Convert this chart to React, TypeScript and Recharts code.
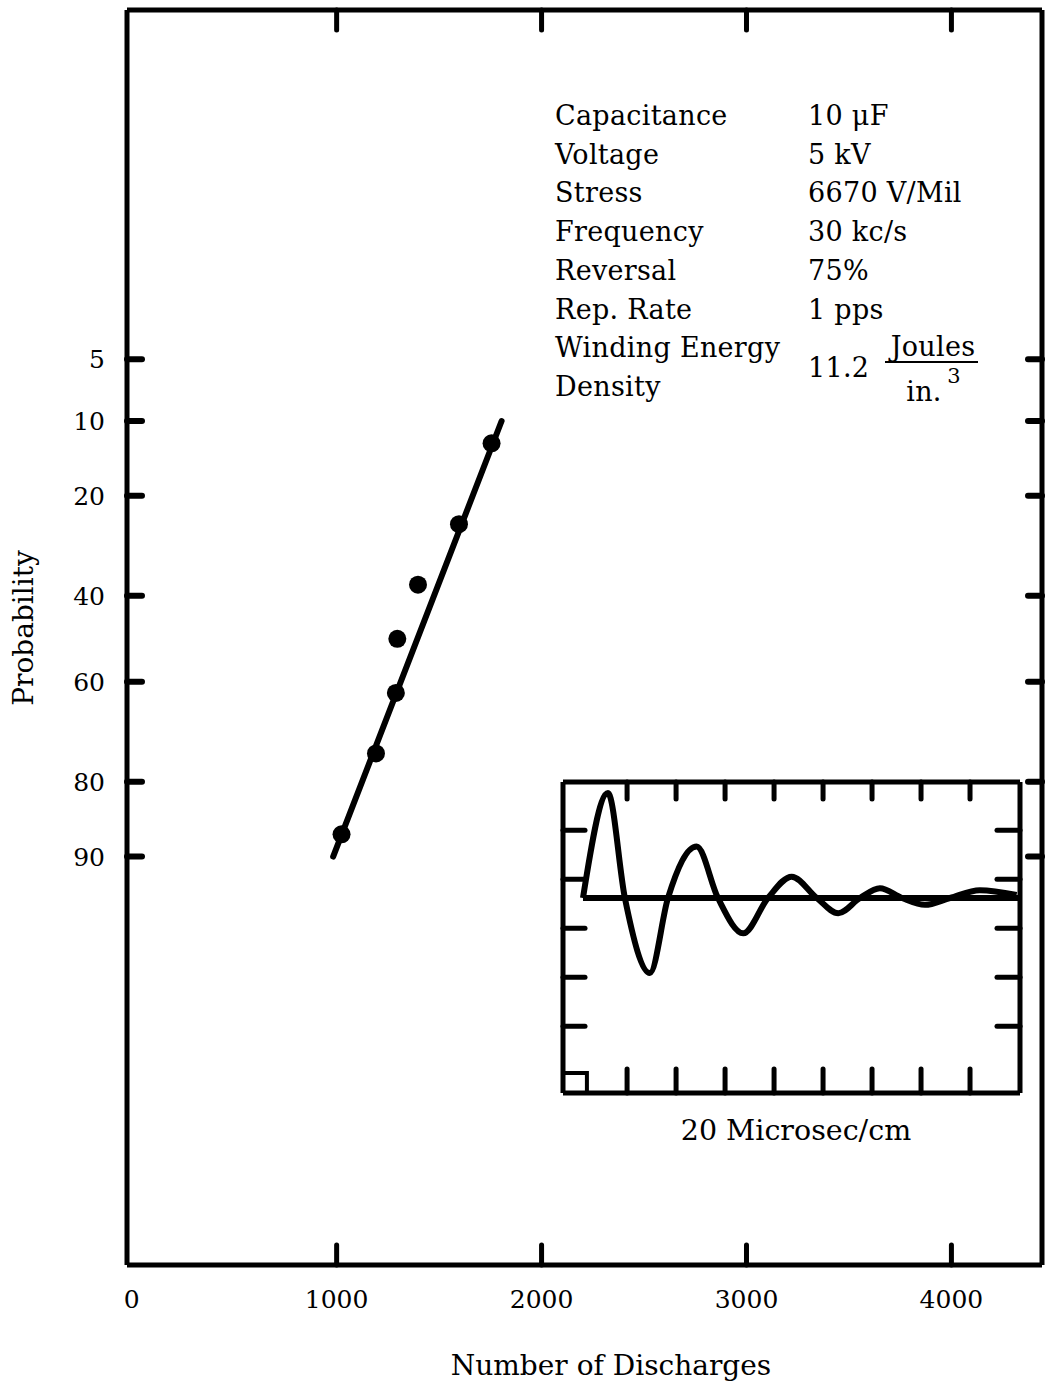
import React from 'react';
import {
  ComposedChart,
  LineChart,
  Line,
  Scatter,
  XAxis,
  YAxis,
  ReferenceArea,
} from 'recharts';

// main plot: probability (%) vs number of discharges to failure
const discharges = [1756, 1597, 1397, 1296, 1289, 1192, 1024];
const probability = [12.5, 25, 37.5, 50, 62.5, 75, 87.5];
const fitDischarges = [983, 1805];
const fitProbability = [90, 10];
const xTicks = [0, 1000, 2000, 3000, 4000];
const probTicks = [5, 10, 20, 40, 60, 80, 90];

// inset oscillogram (20 microsec/cm), time in microsec, amplitude in divisions
const waveTime = [0, 10.2, 17.1, 27.3, 34.7, 46.4, 55.1, 65.4, 75.5, 85.2, 95.4, 104.2, 113.1, 121.2, 130.2, 139.6, 149.8, 162, 177];
const waveAmp = [0, 2.14, 0, -1.53, 0, 1.05, 0, -0.72, 0, 0.435, 0, -0.31, 0, 0.2, 0, -0.14, 0, 0.16, 0.06];
const baseTime = [0, 178.4];
const baseAmp = [0, 0];
const gridTime = [18, 38, 58, 78, 98, 118, 138, 158];
const gridAmp = [1.38, 0.38, -0.62, -1.62, -2.62];

const params = [
  ['Capacitance', '10 μF'],
  ['Voltage', '5 kV'],
  ['Stress', '6670 V/Mil'],
  ['Frequency', '30 kc/s'],
  ['Reversal', '75%'],
  ['Rep. Rate', '1 pps'],
];

// inverse of the standard normal CDF (Acklam), used for the probability axis
function probit(p: number): number {
  const a = [-39.69683028665376, 220.9460984245205, -275.9285104469687, 138.357751867269, -30.66479806614716, 2.506628277459239];
  const b = [-54.47609879822406, 161.5858368580409, -155.6989798598866, 66.80131188771972, -13.28068155288572];
  const c = [-0.007784894002430293, -0.3223964580411365, -2.400758277161838, -2.549732539343734, 4.374664141464968, 2.938163982698783];
  const d = [0.007784695709041462, 0.3224671290700398, 2.445134137142996, 3.754408661907416];
  const pl = 0.02425;
  if (p < pl) {
    const q = Math.sqrt(-2 * Math.log(p));
    return (((((c[0] * q + c[1]) * q + c[2]) * q + c[3]) * q + c[4]) * q + c[5]) /
      ((((d[0] * q + d[1]) * q + d[2]) * q + d[3]) * q + 1);
  }
  if (p > 1 - pl) {
    const q = Math.sqrt(-2 * Math.log(1 - p));
    return -(((((c[0] * q + c[1]) * q + c[2]) * q + c[3]) * q + c[4]) * q + c[5]) /
      ((((d[0] * q + d[1]) * q + d[2]) * q + d[3]) * q + 1);
  }
  const q = p - 0.5;
  const r = q * q;
  return (((((a[0] * r + a[1]) * r + a[2]) * r + a[3]) * r + a[4]) * r + a[5]) * q /
    (((((b[0] * r + b[1]) * r + b[2]) * r + b[3]) * r + b[4]) * r + 1);
}

const points = discharges.map((n, i) => ({ n, z: probit(probability[i] / 100) }));
const fitLine = fitDischarges.map((n, i) => ({ n, z: probit(fitProbability[i] / 100) }));
const zTicks = probTicks.map((p) => probit(p / 100));
const wave = waveTime.map((t, i) => ({ t, v: waveAmp[i] }));
const baseline = baseTime.map((t, i) => ({ t, v: baseAmp[i] }));

const FONT = '"DejaVu Serif", serif';
const X_DOMAIN: [number, number] = [-23, 4442];
const Z_DOMAIN: [number, number] = [-3.7, 3.685];
const T_DOMAIN: [number, number] = [-8.16, 178.4];
const A_DOMAIN: [number, number] = [-3.98, 2.367];

const axisLine = { stroke: '#000', strokeWidth: 5 };
const tickLine = { stroke: '#000', strokeWidth: 5, strokeLinecap: 'round' as const };
const NoLabel = () => <g />;

// inward tick hanging down from a top axis
const topTick = (len: number) => (props: any) => (
  <line x1={props.x} y1={props.y} x2={props.x} y2={props.y + len} stroke="#000" strokeWidth={5} strokeLinecap="round" />
);
const MainTopTick = topTick(20);
const InsetTopTick = topTick(17);

function BottomTick(props: any) {
  const { x, y, payload } = props;
  return (
    <g>
      {payload.value !== 0 && (
        <line x1={x} y1={y} x2={x} y2={y - 20} stroke="#000" strokeWidth={5} strokeLinecap="round" />
      )}
      <text x={x} y={y + 43} textAnchor="middle" fontFamily={FONT} fontSize={25} fill="#000">
        {payload.value}
      </text>
    </g>
  );
}

function LeftTick(props: any) {
  const { x, y, payload } = props;
  const label = probTicks.find((p) => Math.abs(probit(p / 100) - payload.value) < 1e-6);
  return (
    <g>
      <line x1={x} y1={y} x2={x + 15} y2={y} stroke="#000" strokeWidth={6} strokeLinecap="round" />
      <text x={x - 22} y={y + 9} textAnchor="end" fontFamily={FONT} fontSize={25} fill="#000">
        {label}
      </text>
    </g>
  );
}

const abs = (left: number, top: number, extra: React.CSSProperties = {}): React.CSSProperties => ({
  position: 'absolute',
  left,
  top,
  whiteSpace: 'nowrap',
  lineHeight: 1,
  fontFamily: FONT,
  color: '#000',
  ...extra,
});

const PARAM_TEXT = { fontSize: 27, letterSpacing: 0.3 };

export default function App() {
  return (
    <div style={{ position: 'absolute', left: 0, top: 0, width: 1046, height: 1387, background: '#fff', overflow: 'hidden' }}>
      <ComposedChart width={1046} height={1387} margin={{ top: 9, right: 4, left: 0, bottom: 0 }}>
        <XAxis
          xAxisId="b"
          type="number"
          dataKey="n"
          domain={X_DOMAIN}
          allowDataOverflow
          ticks={xTicks}
          height={122}
          axisLine={axisLine}
          tickLine={false}
          tickSize={0}
          tickMargin={0}
          tick={BottomTick}
          interval={0}
        />
        <XAxis
          xAxisId="t"
          orientation="top"
          type="number"
          dataKey="n"
          domain={X_DOMAIN}
          allowDataOverflow
          ticks={xTicks.slice(1)}
          height={1}
          tickSize={0}
          tickMargin={0}
          axisLine={axisLine}
          tickLine={false}
          tick={MainTopTick}
          interval={0}
        />
        <YAxis
          yAxisId="l"
          type="number"
          dataKey="z"
          domain={Z_DOMAIN}
          allowDataOverflow
          reversed
          ticks={zTicks}
          width={127}
          axisLine={axisLine}
          tickLine={false}
          tickSize={0}
          tickMargin={0}
          tick={LeftTick}
          interval={0}
        />
        <YAxis
          yAxisId="r"
          orientation="right"
          type="number"
          domain={Z_DOMAIN}
          allowDataOverflow
          reversed
          ticks={zTicks}
          width={30}
          mirror
          tickSize={14}
          axisLine={axisLine}
          tickLine={{ stroke: '#000', strokeWidth: 6, strokeLinecap: 'round' }}
          tick={NoLabel}
          interval={0}
        />
        <Line
          xAxisId="b"
          yAxisId="l"
          data={fitLine}
          dataKey="z"
          type="linear"
          stroke="#000"
          strokeWidth={6}
          strokeLinecap="round"
          dot={false}
          activeDot={false}
          isAnimationActive={false}
        />
        <Scatter
          xAxisId="t"
          yAxisId="l"
          data={points}
          dataKey="z"
          fill="#000"
          isAnimationActive={false}
          shape={(p: any) => <circle cx={p.cx} cy={p.cy} r={9} fill="#000" />}
        />
      </ComposedChart>

      {/* axis titles */}
      <div style={abs(611, 1366, { fontSize: 28, transform: 'translate(-50%, -50%)' })}>Number of Discharges</div>
      <div style={abs(24, 628, { fontSize: 28, transform: 'translate(-50%, -50%) rotate(-90deg)' })}>Probability</div>

      {/* test conditions */}
      {params.map(([k, v], i) => (
        <React.Fragment key={k}>
          <div style={abs(555, 115 + i * 38.7, { ...PARAM_TEXT, transform: 'translateY(-50%)' })}>{k}</div>
          <div style={abs(808, 115 + i * 38.7, { ...PARAM_TEXT, transform: 'translateY(-50%)' })}>{v}</div>
        </React.Fragment>
      ))}
      <div style={abs(555, 347, { ...PARAM_TEXT, transform: 'translateY(-50%)' })}>Winding Energy</div>
      <div style={abs(555, 386, { ...PARAM_TEXT, transform: 'translateY(-50%)' })}>Density</div>
      <div style={abs(808, 367, { ...PARAM_TEXT, transform: 'translateY(-50%)' })}>11.2</div>
      <div style={abs(933, 346, { ...PARAM_TEXT, transform: 'translate(-50%, -50%)' })}>Joules</div>
      <div style={{ position: 'absolute', left: 885, top: 361, width: 93, height: 2, background: '#000' }} />
      <div style={abs(924, 391, { ...PARAM_TEXT, transform: 'translate(-50%, -50%)' })}>in.</div>
      <div style={abs(954, 376, { fontSize: 21, transform: 'translate(-50%, -50%)' })}>3</div>

      {/* inset oscillogram */}
      <div style={{ position: 'absolute', left: 558, top: 777 }}>
        <LineChart width={467} height={321} data={wave} margin={{ top: 4, right: 5, bottom: 5, left: 5 }}>
          <XAxis
            xAxisId="xb"
            type="number"
            dataKey="t"
            domain={T_DOMAIN}
            allowDataOverflow
            ticks={gridTime}
            height={30}
            mirror
            tickSize={24}
            axisLine={axisLine}
            tickLine={tickLine}
            tick={NoLabel}
            interval={0}
          />
          <XAxis
            xAxisId="xt"
            orientation="top"
            type="number"
            dataKey="t"
            domain={T_DOMAIN}
            allowDataOverflow
            ticks={gridTime}
            height={1}
            tickSize={0}
            tickMargin={0}
            axisLine={axisLine}
            tickLine={false}
            tick={InsetTopTick}
            interval={0}
          />
          <YAxis
            yAxisId="yl"
            type="number"
            dataKey="v"
            domain={A_DOMAIN}
            allowDataOverflow
            ticks={gridAmp}
            width={30}
            mirror
            tickSize={22}
            axisLine={axisLine}
            tickLine={tickLine}
            tick={NoLabel}
            interval={0}
          />
          <YAxis
            yAxisId="yr"
            orientation="right"
            type="number"
            domain={A_DOMAIN}
            allowDataOverflow
            ticks={gridAmp}
            width={30}
            mirror
            tickSize={23}
            axisLine={axisLine}
            tickLine={tickLine}
            tick={NoLabel}
            interval={0}
          />
          <ReferenceArea
            xAxisId="xb"
            yAxisId="yl"
            x1={T_DOMAIN[0]}
            x2={1.6}
            y1={A_DOMAIN[0]}
            y2={-3.57}
            fill="none"
            stroke="#000"
            strokeWidth={4}
            ifOverflow="hidden"
          />
          <Line
            xAxisId="xb"
            yAxisId="yl"
            data={baseline}
            dataKey="v"
            type="linear"
            stroke="#000"
            strokeWidth={6}
            dot={false}
            activeDot={false}
            isAnimationActive={false}
          />
          <Line
            xAxisId="xt"
            yAxisId="yl"
            dataKey="v"
            type="monotone"
            stroke="#000"
            strokeWidth={6}
            dot={false}
            activeDot={false}
            isAnimationActive={false}
          />
        </LineChart>
      </div>
      <div style={abs(796, 1131, { fontSize: 28.5, transform: 'translate(-50%, -50%)' })}>20 Microsec/cm</div>
    </div>
  );
}
